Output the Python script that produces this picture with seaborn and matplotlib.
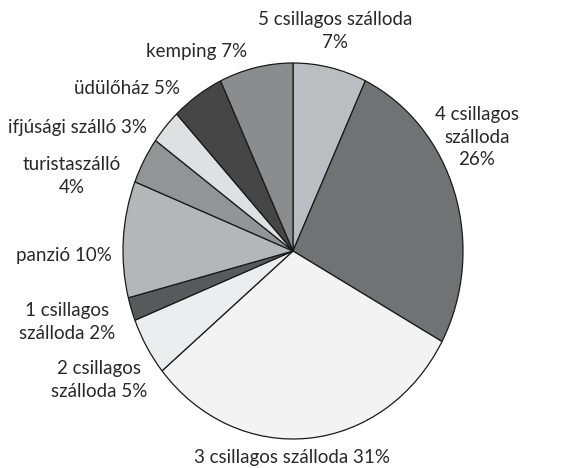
import matplotlib
matplotlib.use("Agg")
import matplotlib.pyplot as plt
import seaborn as sns

# shares of accommodation types, clockwise from the top
categories = ["5 csillagos szálloda", "4 csillagos szálloda", "3 csillagos szálloda",
              "2 csillagos szálloda", "1 csillagos szálloda", "panzió",
              "turistaszálló", "ifjúsági szálló", "üdülőház", "kemping"]
shares = [7, 26, 31, 5, 2, 10, 4, 3, 5, 7]
label_texts = ["5 csillagos szálloda\n7%", "4 csillagos\nszálloda\n26%", "3 csillagos szálloda 31%",
               "2 csillagos\nszálloda 5%", "1 csillagos\nszálloda 2%", "panzió 10%",
               "turistaszálló\n4%", "ifjúsági szálló 3%", "üdülőház 5%", "kemping 7%"]

colors = ["#bcbdc0", "#717274", "#f3f3f3", "#ecedee", "#58595b",
          "#b5b6b8", "#939496", "#dfe0e1", "#464647", "#8b8c8e"]
# label centres in pixels (layout only)
label_pos = [(335, 31), (477, 137), (292, 457), (99, 380), (67, 322),
             (64, 256), (72, 176), (78, 128), (127, 89), (197, 52)]

sns.set_theme(style="white")
plt.rcParams["font.family"] = ["Lato", "DejaVu Sans"]

W, H = 582, 468
fig = plt.figure(figsize=(W / 100, H / 100), dpi=100)
cx, cy, rx, ry = 293, 251, 170, 188
ax = fig.add_axes([(cx - rx) / W, (H - cy - ry) / H, 2 * rx / W, 2 * ry / H])
ax.pie(shares, colors=colors, startangle=90, counterclock=False,
       wedgeprops={"edgecolor": "#1a1a1a", "linewidth": 0.9})
ax.set_aspect("auto")
ax.set_xlim(-1, 1)
ax.set_ylim(-1, 1)
ax.axis("off")

for txt, (px, py) in zip(label_texts, label_pos):
    fig.text(px / W, 1 - py / H, txt, ha="center", va="center",
             fontsize=13.5, color="#2b2728", linespacing=1.38)

fig.savefig("out.png", dpi=100)
